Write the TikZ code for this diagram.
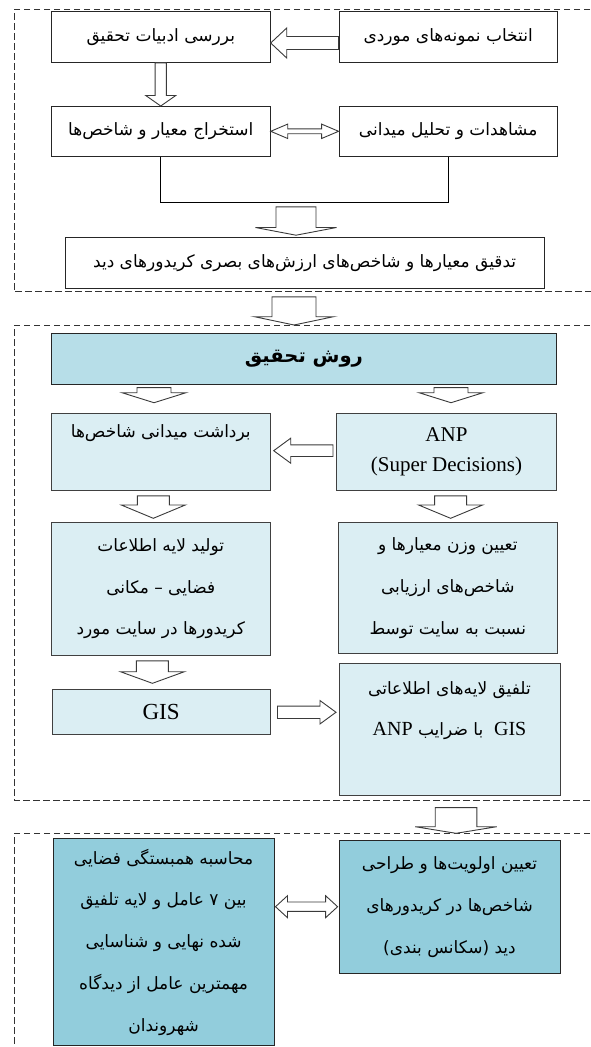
\documentclass[tikz,border=0pt]{standalone}
\usepackage{fontspec}
\setmainfont{Liberation Serif}
\newfontfamily\farsi[Script=Arabic]{DejaVu Sans}
\TeXXeTstate=1
\usetikzlibrary{calc}
\definecolor{paleblue}{HTML}{DBEEF3}
\definecolor{midblue}{HTML}{B7DEE8}
\definecolor{deepblue}{HTML}{92CDDC}
\definecolor{arrowgray}{HTML}{3A3A3A}
\newcommand{\fasize}{\fontsize{17}{41.7}\selectfont}
\newcommand{\fa}[1]{{\farsi\beginR #1\endR}}
\newcommand{\lat}[1]{{\rmfamily\fontsize{20}{41.7}\selectfont\beginL #1\endL}}

\tikzset{
	blk shaft/.initial=5pt, blk head/.initial=15pt, blk len/.initial=10pt,
	blk pre/.initial=0pt, blk post/.initial=0pt,
	blockarrow/.style={draw=arrowgray, fill=white, line width=0.9pt, to path={
		($(\tikztostart)!\pgfkeysvalueof{/tikz/blk pre}!(\tikztotarget)$) coordinate (blkA)
		($(\tikztotarget)!\pgfkeysvalueof{/tikz/blk post}!(\tikztostart)$) coordinate (blkB)
		($(blkB)!\pgfkeysvalueof{/tikz/blk len}!(blkA)$) coordinate (blkC)
		($(blkA)!\pgfkeysvalueof{/tikz/blk shaft}!90:(blkB)$)
		-- ($(blkC)!\pgfkeysvalueof{/tikz/blk shaft}!90:(blkB)$)
		-- ($(blkC)!\pgfkeysvalueof{/tikz/blk head}!90:(blkB)$)
		-- (blkB)
		-- ($(blkC)!\pgfkeysvalueof{/tikz/blk head}!-90:(blkB)$)
		-- ($(blkC)!\pgfkeysvalueof{/tikz/blk shaft}!-90:(blkB)$)
		-- ($(blkA)!\pgfkeysvalueof{/tikz/blk shaft}!-90:(blkB)$)
		-- cycle}},
	blockboth/.style={draw=arrowgray, fill=white, line width=0.9pt, to path={
		($(\tikztostart)!\pgfkeysvalueof{/tikz/blk pre}!(\tikztotarget)$) coordinate (blkA)
		($(\tikztotarget)!\pgfkeysvalueof{/tikz/blk post}!(\tikztostart)$) coordinate (blkB)
		($(blkB)!\pgfkeysvalueof{/tikz/blk len}!(blkA)$) coordinate (blkC)
		($(blkA)!\pgfkeysvalueof{/tikz/blk len}!(blkB)$) coordinate (blkD)
		(blkA)
		-- ($(blkD)!\pgfkeysvalueof{/tikz/blk head}!90:(blkB)$)
		-- ($(blkD)!\pgfkeysvalueof{/tikz/blk shaft}!90:(blkB)$)
		-- ($(blkC)!\pgfkeysvalueof{/tikz/blk shaft}!90:(blkB)$)
		-- ($(blkC)!\pgfkeysvalueof{/tikz/blk head}!90:(blkB)$)
		-- (blkB)
		-- ($(blkC)!\pgfkeysvalueof{/tikz/blk head}!-90:(blkB)$)
		-- ($(blkC)!\pgfkeysvalueof{/tikz/blk shaft}!-90:(blkB)$)
		-- ($(blkD)!\pgfkeysvalueof{/tikz/blk shaft}!-90:(blkB)$)
		-- ($(blkD)!\pgfkeysvalueof{/tikz/blk head}!-90:(blkB)$)
		-- cycle}},
}

\begin{document}
\begin{tikzpicture}[x=1pt,y=-1pt,
		frame/.style={draw=black!80, line width=0.9pt, dash pattern=on 6.5pt off 3.5pt},
		box/.style={draw=black!85, line width=0.9pt, fill=white, inner sep=0pt, align=center, anchor=north west, font=\fasize},
		pale/.style={box, fill=paleblue, draw=black!75},
		link/.style={draw=black, line width=1.1pt}]
	\useasboundingbox (0,0) rectangle (590,1047);

	\draw[frame] (600,9) -- (14,9) -- (14,291.7) -- (600,291.7);
	\draw[frame] (600,325) -- (14,325) -- (14,800) -- (600,800);
	\draw[frame] (600,833.3) -- (14,833.3) -- (14,1060);

	\node[box, minimum width=219, minimum height=51] (review) at (50.8,11) {\fa{بررسی ادبیات تحقیق}};
	\node[box, minimum width=218.3, minimum height=51] (select) at (338.6,11) {\fa{انتخاب نمونه^^^^200cهای موردی}};
	\node[box, minimum width=219, minimum height=49.7] (extract) at (50.8,106) {\fa{استخراج معیار و شاخص^^^^200cها}};
	\node[box, minimum width=218.3, minimum height=49.7] (observe) at (338.6,106) {\fa{مشاهدات و تحلیل میدانی}};
	\node[box, minimum width=479, minimum height=51] (refine) at (64.7,236.7) {\fa{تدقیق معیارها و شاخص^^^^200cهای ارزش^^^^200cهای بصری کریدورهای دید}};

	\node[box, fill=midblue, minimum width=505.3, minimum height=50.7, font=\fontsize{19.5}{30}\selectfont] (method) at (50.8,333.3) {\fa{\bfseries روش تحقیق}};
	\node[pale, minimum width=219, minimum height=76.7] (field) at (50.8,413.3) {\fa{برداشت میدانی شاخص^^^^200cها}\\\mbox{}};
	\node[pale, minimum width=220.1, minimum height=76.7, font=\fontsize{21}{30}\selectfont] (anp) at (336,413.3) {ANP\\(Super Decisions)};
	\node[pale, minimum width=219, minimum height=133.3] (layer) at (50.8,521.7) {\fa{تولید لایه اطلاعات}\\\fa{فضایی – مکانی}\\\fa{کریدورها در سایت مورد}};
	\node[pale, minimum width=219, minimum height=131.6] (weight) at (337.9,521.7) {\fa{تعیین وزن معیارها و}\\\fa{شاخص^^^^200cهای ارزیابی}\\\fa{نسبت به سایت توسط}};
	\node[pale, minimum width=218.3, minimum height=45, font=\fontsize{23}{30}\selectfont] (gis) at (51.5,689.3) {GIS};
	\node[pale, minimum width=220.9, minimum height=132.3] (overlay) at (338.6,662.7) {\fa{تلفیق لایه^^^^200cهای اطلاعاتی}\\\fa{\lat{GIS}\ \ با ضرایب \lat{ANP}}\\\mbox{}};

	\node[box, fill=deepblue, minimum width=220.9, minimum height=206.7] (correl) at (52.7,838.3) {\fa{محاسبه همبستگی فضایی}\\\fa{بین ۷ عامل و لایه تلفیق}\\\fa{شده نهایی و شناسایی}\\\fa{مهمترین عامل از دیدگاه}\\\fa{شهروندان}};
	\node[box, fill=deepblue, minimum width=220.9, minimum height=133.3] (priority) at (338.6,840) {\fa{تعیین اولویت^^^^200cها و طراحی}\\\fa{شاخص^^^^200cها در کریدورهای}\\\fa{دید (سکانس بندی)}};

	\draw[blockarrow, blk shaft=6.5pt, blk head=15pt, blk len=16pt] (select.west |- 0,43) to (review.east |- 0,43);
	\draw[blockarrow, blk shaft=5.6pt, blk head=15pt, blk len=10.5pt] (review.south) to (extract.north);
	\draw[blockboth, blk shaft=2.4pt, blk head=7.2pt, blk len=17pt] (extract.east) to (observe.west);
	\draw[link] (extract.south) -- ++(0,46) -| (observe.south);
	\draw[blockarrow, blk shaft=20pt, blk head=40.5pt, blk len=7.7pt, blk pre=50.3pt, blk post=1.5pt] (extract.south -| 296,0) to (refine.north -| 296,0);
	\draw[blockarrow, blk shaft=22pt, blk head=39.5pt, blk len=8.3pt, blk pre=8.3pt, blk post=8.3pt] (refine.south -| 294,0) to (method.north -| 294,0);

	\draw[blockarrow, blk shaft=17pt, blk head=32pt, blk len=10pt, blk pre=2.7pt, blk post=10.6pt] (method.south -| 154,0) to (field.north -| 154,0);
	\draw[blockarrow, blk shaft=17pt, blk head=32pt, blk len=10pt, blk pre=2.7pt, blk post=10.6pt] (method.south -| 451,0) to (anp.north -| 451,0);
	\draw[blockarrow, blk shaft=5.8pt, blk head=12.5pt, blk len=17pt, blk pre=3pt, blk post=3pt] (anp.west |- 0,450.7) to (field.east |- 0,450.7);
	\draw[blockarrow, blk shaft=16pt, blk head=32pt, blk len=13.3pt, blk pre=5pt, blk post=3.4pt] (field.south -| 153.3,0) to (layer.north -| 153.3,0);
	\draw[blockarrow, blk shaft=16pt, blk head=32pt, blk len=13.3pt, blk pre=5pt, blk post=3.4pt] (anp.south -| 450.6,0) to (weight.north -| 450.6,0);
	\draw[blockarrow, blk shaft=16pt, blk head=32pt, blk len=11.6pt, blk pre=5pt, blk post=6pt] (layer.south -| 152.4,0) to (gis.north -| 152.4,0);
	\draw[blockarrow, blk shaft=6.2pt, blk head=11.7pt, blk len=16pt, blk pre=6.8pt, blk post=2.6pt] (gis.east) to (overlay.west |- gis.east);
	\draw[blockarrow, blk shaft=20.8pt, blk head=40.8pt, blk len=6.6pt, blk pre=11.7pt, blk post=6.7pt] (overlay.south -| 456,0) to (priority.north -| 456,0);

	\draw[blockboth, blk shaft=4.7pt, blk head=11pt, blk len=12pt, blk pre=1pt, blk post=1pt] (priority.west |- 0,906.7) to (correl.east |- 0,906.7);
\end{tikzpicture}
\end{document}
